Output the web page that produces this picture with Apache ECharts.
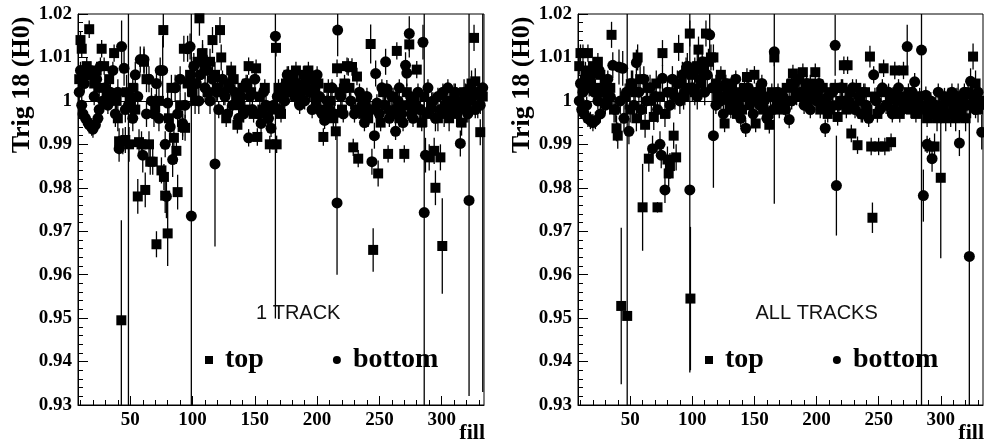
<!DOCTYPE html>
<html><head><meta charset="utf-8">
<script src="https://cdn.jsdelivr.net/npm/echarts@6/dist/echarts.min.js"></script>
<style>html,body{margin:0;padding:0;background:#fff}#c{width:984px;height:444px}</style>
</head><body><div id="c"></div>
<script>
// ---- tick labels / texts ----
const xMajorTicks = [50,100,150,200,250,300];
const xMinorTicks = [10,20,30,40,60,70,80,90,110,120,130,140,160,170,180,190,210,220,230,240,260,270,280,290,310,320,330];
const panelLabels = ['1 TRACK','ALL TRACKS'];
const yTitle = 'Trig 18 (H0)';
const xTitle = 'fill';
const seriesNames = ['top','bottom'];

// ---- data: [fill, value, error] ----
const oneTrackTop = [
[9,1.005,0.002],[10,1.014,0.002],[11,1.012,0.002],[13,1.007,0.002],[15,1.008,0.002],[17,1.0165,0.002],[19,1.006,0.002],[21,1.004,0.002],[23,1.007,0.002],[25,1.003,0.002],[27,1.012,0.002],[29,1.008,0.002],[31,1.002,0.002],[33,1.005,0.002],[35,1.001,0.002],[37,1.011,0.002],[39,1.0,0.003],[40,0.996,0.003],[41,0.9907,0.003],[42.8,0.9495,0.023],[44,0.9907,0.003],[46,0.991,0.003],[47,1.002,0.004],[49,0.990,0.004],[50,1.0,0.003],
[52,1.003,0.003],[54,0.998,0.003],[56,0.978,0.004],[57,0.9905,0.003],[59,0.990,0.003],[61,1.009,0.003],[62,0.9795,0.004],[63,1.005,0.003],[65,0.990,0.003],[66,0.986,0.003],[68,0.986,0.003],[70,0.9985,0.003],[71,0.967,0.003],[73,1.0,0.003],[75,0.984,0.003],[76.5,1.0163,0.004],[77,0.9825,0.003],[78,0.9782,0.004],[80,0.9695,0.0075],[81,0.996,0.003],[83,1.003,0.003],[85,0.9915,0.003],[87,0.9885,0.003],[88,0.979,0.004],[90,0.999,0.003],[92,0.994,0.003],[93,1.012,0.003],[94,0.9938,0.003],[96,1.004,0.003],[98,1.006,0.003],[100,1.002,0.003],[102,1.0,0.003],[104,1.009,0.003],[105.5,1.019,0.004],[108,1.011,0.003],[110,1.008,0.003],[112,1.002,0.003],[114,1.009,0.003],[116,1.014,0.003],
[118,1.006,0.003],[120,1.003,0.003],[122,1.0163,0.003],[123,1.010,0.003],[125,1.002,0.003],[127,0.996,0.002],[129,1.004,0.002],[131,1.007,0.002],[133,1.005,0.002],[135,1.0,0.002],[136,0.9945,0.002],[138,0.999,0.002],[140,1.003,0.002],[142,0.998,0.002],[144,1.004,0.002],[145,1.008,0.002],[147,1.002,0.002],[149,0.997,0.002],[151,1.0075,0.002],[152,0.9917,0.002],[154,1.001,0.002],[156,0.998,0.002],[158,1.003,0.002],[160,0.996,0.002],[162,0.990,0.002],[164,0.998,0.002],[167,1.0122,0.002],[167.5,0.990,0.002],[169,1.003,0.002],[171,0.997,0.002],[173,1.001,0.002],[175,1.004,0.002],[177,1.006,0.002],[179,1.002,0.002],[181,1.005,0.002],[183,1.007,0.002],[185,1.003,0.002],[187,1.001,0.002],[189,1.006,0.002],[191,1.004,0.002],[193,1.007,0.002],[195,1.002,0.002],[197,1.005,0.002],[199,1.0,0.002],[201,1.004,0.002],[203,0.998,0.002],[205,0.9917,0.002],[207,0.997,0.002],[209,1.003,0.002],[211,1.0,0.002],[213,0.996,0.002],[215,0.993,0.002],[216,1.0075,0.002],[218,1.002,0.002],[220,0.998,0.002],[222,1.004,0.002],[224,1.008,0.002],
[226,1.003,0.002],[228,1.0078,0.002],[229,0.9893,0.002],[231,0.998,0.002],[232,1.0056,0.002],[233,0.9867,0.002],[235,1.001,0.002],[237,0.997,0.002],[239,1.0,0.002],[241,0.996,0.002],[243,1.0131,0.0045],[245,0.9657,0.005],[247,0.998,0.002],[249,0.9833,0.003],[251,0.995,0.002],[253,1.002,0.002],[255,0.999,0.002],[257,0.9878,0.002],[259,0.997,0.002],[261,1.001,0.002],[264,1.0115,0.002],[266,0.996,0.002],[268,0.999,0.002],[270,0.9878,0.002],[272,1.002,0.002],[274,1.013,0.003],[276,0.997,0.002],[278,1.0,0.002],[280,1.0072,0.002],[282,0.998,0.002],[284,0.995,0.002],[286,1.001,0.002],[288,0.997,0.003],[290,0.987,0.003],[292,0.999,0.003],[294,0.9885,0.003],[295,0.980,0.004],[297,0.996,0.003],[299,0.987,0.003],[300.5,0.9666,0.011],[302,0.997,0.003],[304,1.0,0.003],[306,0.996,0.003],[308,0.998,0.003],[310,1.001,0.003],[312,0.997,0.003],[314,0.999,0.003],[316,0.995,0.003],[318,1.002,0.003],[320,0.998,0.003],[322,1.0,0.003],[324,1.004,0.003],[326,1.0145,0.003],[327,1.0045,0.003],[329,0.999,0.003],[331,0.9928,0.003],[333,1.001,0.003]
];
const oneTrackBottom = [
[9,1.002,0.002],[10,1.007,0.002],[11,0.999,0.002],[12,0.997,0.002],[13,1.004,0.002],[14,0.996,0.002],[15,1.006,0.002],[16,0.995,0.002],[17,0.9945,0.002],[18,1.007,0.002],[19,0.994,0.002],[20,0.9935,0.002],[21,1.001,0.002],[22,0.9945,0.002],[23,1.005,0.002],[24,0.996,0.002],[25,0.998,0.002],[26,1.008,0.002],[28,1.0,0.002],[30,1.003,0.002],[32,0.999,0.002],[34,1.002,0.002],[36,1.007,0.002],[38,0.997,0.003],[40,1.002,0.003],[41,0.989,0.003],[43,1.0125,0.006],[45,1.0075,0.004],[46,0.998,0.003],[48.5,0.999,0.1],[50,1.001,0.003],[52,0.996,0.003],[54,1.006,0.003],[56,1.001,0.003],[58,1.0095,0.003],[60,0.9875,0.004],[61,1.0095,0.003],[63,0.997,0.003],[65,1.005,0.003],[67,1.0,0.003],[69,0.997,0.003],[71,1.004,0.003],[73,0.996,0.003],[74,1.007,0.003],[76,1.007,0.008],[78,0.990,0.003],[79,0.978,0.005],[80,0.9995,0.003],[82,0.994,0.003],[84,0.9865,0.004],[86,1.003,0.003],[88,0.997,0.003],[90,1.005,0.003],[92,0.9948,0.003],[94,0.999,0.003],[96,1.012,0.003],[98,1.0125,0.003],[99,0.9735,0.06],[101,1.008,0.003],[103,1.004,0.003],[105,1.0,0.003],[106,1.006,0.003],[108,1.01,0.003],[110,1.003,0.003],[112,1.007,0.003],[114,1.0,0.003],[116,1.005,0.003],[118,0.9855,0.019],
[119,1.002,0.002],[121,0.998,0.002],[124,1.005,0.002],[126,1.001,0.002],[128,0.997,0.002],[130,1.003,0.002],[132,0.999,0.002],[134,1.002,0.002],[137,0.996,0.002],[139,1.001,0.002],[141,0.997,0.002],[143,1.004,0.002],[145,0.9915,0.002],[146,1.001,0.002],[148,0.998,0.002],[150,1.005,0.002],[153,0.997,0.002],[155,0.9948,0.002],[157,1.002,0.002],[159,0.999,0.002],[161,0.996,0.002],[163,0.9937,0.002],[165,0.999,0.002],[166.5,1.0149,0.065],[168,1.001,0.002],[170,0.998,0.002],[172,1.003,0.002],[174,1.0,0.002],[176,1.006,0.002],[178,1.003,0.002],[180,1.005,0.002],[182,1.001,0.002],[184,1.004,0.002],[186,0.999,0.002],[188,1.003,0.002],[190,1.0,0.002],[192,1.005,0.002],[194,1.002,0.002],[196,0.998,0.002],[198,1.003,0.002],[200,1.006,0.002],[202,1.001,0.002],[204,0.997,0.002],[206,0.9955,0.002],[208,1.0,0.002],[210,0.998,0.002],[212,1.003,0.002],[214,0.997,0.002],[216,0.9765,0.0165],[216.5,1.0163,0.006],[219,1.001,0.002],[221,0.997,0.002],[223,1.003,0.002],
[225,1.0078,0.002],[227,1.0,0.002],[230,0.997,0.002],[234,1.002,0.002],[236,0.999,0.002],[238,0.995,0.002],[240,1.001,0.002],[242,0.998,0.002],[244,0.986,0.003],[246,0.992,0.003],[247,1.0063,0.003],[248,0.9995,0.002],[250,0.997,0.002],[252,1.003,0.002],[254,0.999,0.002],[255,1.009,0.003],[256,1.0028,0.002],[258,0.996,0.002],[260,1.001,0.002],[262,0.998,0.002],[263,0.993,0.002],[265,1.0,0.002],[266,1.003,0.002],[268,0.997,0.002],[269,0.995,0.002],[271,1.0082,0.003],[272,1.0064,0.003],[273,0.999,0.002],[274,1.0155,0.004],[275,1.001,0.002],[277,0.996,0.002],[279,0.999,0.002],[281,1.002,0.002],[283,0.998,0.002],[285,1.0135,0.004],[286,0.9743,0.06],[287,0.9875,0.004],[289,1.003,0.002],[291,0.998,0.002],[293,1.0,0.002],[295,0.996,0.003],[297,1.001,0.002],[299,0.998,0.002],[301,1.002,0.002],[303,0.999,0.002],[305,1.003,0.002],[307,0.997,0.002],[309,1.0,0.002],[311,1.002,0.002],[313,0.998,0.002],[315,0.9902,0.003],[317,1.0,0.002],[319,1.002,0.002],[321,0.997,0.002],[322,0.9771,0.045],[323,1.003,0.002],[325,1.001,0.002],[327,0.998,0.002],[329,1.002,0.002],[331,0.999,0.002],[333,1.003,0.07]
];
const allTracksTop = [
[9,1.008,0.002],[10,1.011,0.002],[12,1.011,0.002],[14,1.007,0.002],[16,1.011,0.002],[18,1.004,0.002],[20,1.008,0.002],[22,1.003,0.002],[24,1.009,0.002],[26,1.006,0.002],[28,1.002,0.002],[30,1.004,0.002],[32,1.0,0.002],[34,1.003,0.002],[35,1.0152,0.003],[37,0.998,0.003],[39,0.9937,0.003],[40,0.992,0.003],[42.8,0.9528,0.018],[46,1.001,0.003],[47.6,0.9505,0.1],[50,0.998,0.003],[52,1.004,0.003],[54,1.002,0.003],[55,0.996,0.003],[56,1.010,0.003],[58,1.005,0.003],[60,0.9755,0.01],[62,0.9945,0.003],[64,1.003,0.003],[65,0.9867,0.003],[67,1.0,0.003],[69,0.9963,0.003],[71,1.004,0.003],[72,0.9755,0.0012],[74,1.001,0.003],[76,1.011,0.003],[78,0.997,0.003],[80,0.9865,0.003],[81,0.9833,0.003],[82,0.985,0.003],[84,1.002,0.003],[85,0.992,0.003],[87,0.987,0.003],[89,1.0122,0.003],[91,1.004,0.003],[93,1.001,0.003],[95,1.007,0.003],[97,1.003,0.003],[98,1.0155,0.003],[98.5,0.9545,0.0165],[100,1.006,0.003],[102,1.002,0.003],[104,1.008,0.003],[105,1.0118,0.003],[107,1.004,0.003],[109,1.007,0.003],[111,1.0155,0.003],[113,1.009,0.003],[115,1.010,0.003],[117,1.010,0.003],
[119,1.004,0.002],[121,1.001,0.002],[123,1.006,0.002],[126,0.9948,0.002],[128,1.002,0.002],[130,0.999,0.002],[132,1.004,0.002],[134,1.0,0.002],[136,0.997,0.002],[138,1.002,0.002],[140,0.998,0.002],[142,1.003,0.002],[144,1.0055,0.002],[146,0.999,0.002],[148,1.002,0.002],[150,1.006,0.002],[151,0.9948,0.002],[153,1.0,0.002],[155,1.003,0.002],[157,0.998,0.002],[159,1.001,0.002],[161,0.997,0.002],[162,0.9945,0.002],[164,1.002,0.002],[166,1.010,0.002],[168,1.0,0.002],[170,0.998,0.002],[172,1.001,0.002],[174,0.999,0.002],[176,1.003,0.002],[178,1.0,0.002],[180,1.004,0.002],[181,1.0063,0.002],[183,1.002,0.002],[185,1.005,0.002],[187,1.001,0.002],[189,1.0066,0.002],[191,1.003,0.002],[193,0.999,0.002],[195,1.004,0.002],[197,1.002,0.002],[199,1.0066,0.002],[201,1.001,0.002],[203,0.998,0.002],[205,1.003,0.002],[207,1.0,0.002],[209,0.997,0.002],[211,1.002,0.002],[213,0.999,0.002],[215,1.003,0.002],[217,0.9963,0.002],[219,1.0,0.002],[221,1.003,0.002],[222,1.0082,0.002],[224,0.998,0.002],
[225,1.0082,0.002],[227,1.002,0.002],[228,0.9925,0.002],[230,0.999,0.002],[232,1.003,0.002],[233,0.9898,0.002],[235,1.0,0.002],[237,0.997,0.002],[239,1.002,0.002],[241,0.998,0.002],[243,1.0102,0.0025],[244,0.9895,0.002],[245,0.9731,0.0035],[247,1.001,0.002],[249,0.997,0.002],[250,0.9895,0.002],[252,1.002,0.002],[254,1.0075,0.002],[255,0.9895,0.002],[257,0.999,0.002],[259,1.001,0.002],[260,0.9905,0.002],[262,0.998,0.002],[263,1.007,0.002],[265,1.002,0.002],[267,0.997,0.002],[268,1.0,0.002],[270,1.007,0.002],[272,0.999,0.002],[274,1.002,0.002],[276,0.998,0.002],[278,1.001,0.002],[280,0.997,0.002],[282,1.0,0.002],[284,0.998,0.002],[287,0.999,0.002],[289,0.996,0.002],[291,0.9895,0.002],[293,0.997,0.002],[295,0.9895,0.003],[297,0.996,0.003],[299,0.998,0.003],[300,0.9823,0.0185],[302,0.999,0.003],[304,0.996,0.003],[306,1.0,0.003],[308,0.997,0.003],[310,0.999,0.003],[312,0.996,0.003],[314,1.001,0.003],[316,0.998,0.003],[318,1.0,0.003],[320,0.996,0.003],[322,1.002,0.003],[324,0.999,0.003],[326,1.0102,0.003],[328,1.004,0.003],[330,0.998,0.003],[332,1.0,0.003]
];
const allTracksBottom = [
[9,1.0,0.002],[10,1.004,0.002],[11,0.998,0.002],[12,1.002,0.002],[13,0.997,0.002],[14,1.005,0.002],[15,0.999,0.002],[16,0.996,0.002],[17,1.003,0.002],[18,0.9955,0.002],[19,1.006,0.002],[20,0.995,0.002],[21,1.002,0.002],[22,0.9955,0.002],[24,1.0,0.002],[25,1.007,0.002],[26,0.997,0.002],[28,1.003,0.002],[30,0.999,0.002],[32,1.005,0.002],[34,1.001,0.002],[36,1.0082,0.003],[38,0.998,0.003],[41,1.0078,0.004],[42,1.0,0.003],[44,1.0075,0.004],[45,0.996,0.003],[47,1.002,0.003],[49,0.993,0.003],[51,1.004,0.003],[53,0.999,0.003],[55,1.0088,0.003],[57,1.002,0.003],[59,0.998,0.003],[61,1.005,0.003],[63,1.0,0.003],[66,1.003,0.003],[68,0.989,0.003],[70,1.001,0.003],[72,0.998,0.003],[74,0.990,0.003],[75,0.9875,0.003],[76,1.0052,0.003],[78,0.9795,0.003],[80,1.002,0.003],[82,0.999,0.003],[84,1.005,0.003],[86,1.001,0.003],[88,1.004,0.003],[90,1.0,0.003],[92,1.006,0.003],[94,1.002,0.003],[96,1.008,0.003],[98,0.9795,0.042],[100,1.003,0.003],[102,1.007,0.003],[104,1.001,0.003],[106,1.005,0.003],[108,1.009,0.003],[110,1.002,0.003],[112,1.006,0.003],[114,1.0152,0.005],[116,1.003,0.003],[117,0.992,0.012],
[119,0.999,0.002],[121,1.003,0.002],[123,1.0,0.002],[125,0.997,0.002],[127,1.004,0.002],[129,1.001,0.002],[131,0.998,0.002],[133,1.002,0.002],[135,1.005,0.002],[137,0.999,0.002],[139,0.996,0.002],[141,1.001,0.002],[143,0.9937,0.002],[145,1.003,0.002],[147,1.0,0.002],[149,0.997,0.002],[152,1.002,0.002],[154,0.999,0.002],[156,1.004,0.002],[158,1.0,0.002],[160,0.996,0.002],[163,1.001,0.002],[165,0.998,0.002],[166,1.0113,0.035],[169,1.002,0.002],[171,0.999,0.002],[173,1.001,0.002],[175,0.998,0.002],[178,0.9957,0.002],[180,1.0,0.002],[182,1.004,0.002],[184,1.001,0.002],[186,1.005,0.002],[188,1.002,0.002],[190,0.999,0.002],[192,1.004,0.002],[194,1.001,0.002],[195,0.998,0.002],[198,1.003,0.002],[200,1.0,0.002],[202,1.004,0.002],[204,0.999,0.002],[207,0.9937,0.002],[209,1.001,0.002],[211,0.998,0.002],[213,1.002,0.002],[215,1.0128,0.007],[216,0.9805,0.0115],[218,0.999,0.002],[220,1.003,0.002],[223,1.0,0.002],
[226,1.0,0.002],[229,1.003,0.002],[231,0.998,0.002],[234,1.001,0.002],[236,0.997,0.002],[238,1.002,0.002],[240,0.999,0.002],[242,0.996,0.002],[246,1.006,0.002],[248,1.0,0.002],[251,0.998,0.002],[253,1.003,0.002],[256,0.999,0.002],[258,1.002,0.002],[261,0.997,0.002],[264,1.0,0.002],[266,1.003,0.002],[269,0.998,0.002],[271,1.001,0.002],[273,1.0125,0.005],[275,0.999,0.002],[277,1.002,0.002],[279,1.0044,0.002],[281,0.999,0.002],[283,1.001,0.002],[284.5,1.0117,0.1],[286,0.9782,0.006],[288,1.0013,0.002],[289,0.990,0.002],[290,0.998,0.002],[292,1.0,0.002],[293,0.9867,0.003],[296,0.999,0.002],[298,1.002,0.002],[301,0.998,0.002],[303,1.001,0.002],[305,0.997,0.002],[307,1.0,0.002],[309,1.002,0.002],[311,0.998,0.002],[313,1.001,0.002],[315,0.9903,0.003],[317,0.999,0.002],[319,1.002,0.002],[321,0.999,0.002],[323,0.9642,0.037],[324,1.0045,0.003],[326,1.001,0.002],[328,0.998,0.002],[330,1.002,0.002],[332,0.999,0.002],[333,0.9928,0.004]
];

const panels = [
  {top: oneTrackTop, bottom: oneTrackBottom, label: panelLabels[0], left: 78, width: 406},
  {top: allTracksTop, bottom: allTracksBottom, label: panelLabels[1], left: 578, width: 405}
];
const GT = 14, GH = 391;
const serif = 'Liberation Serif';

function errRender(params, api) {
  const x = api.value(0), y = api.value(1), e = api.value(2);
  const p1 = api.coord([x, y + e]), p2 = api.coord([x, y - e]);
  const cs = params.coordSys;
  const lo = cs.y, hi = cs.y + cs.height;
  const c = v => Math.max(lo, Math.min(hi, v));
  return {type: 'line', shape: {x1: p1[0], y1: c(p1[1]), x2: p2[0], y2: c(p2[1])},
          style: {stroke: '#000', lineWidth: 1.3}};
}

const grid = [], xAxis = [], yAxis = [], series = [], legend = [], graphic = [];
panels.forEach((p, i) => {
  grid.push({left: p.left, top: GT, width: p.width, height: GH, show: true, borderColor: '#000', borderWidth: 1, backgroundColor: 'transparent'});
  xAxis.push({type: 'value', gridIndex: i, min: 8, max: 334, position: 'bottom',
    axisLine: {lineStyle: {color: '#000', width: 1}},
    axisTick: {inside: true, length: 9, customValues: xMajorTicks, lineStyle: {color: '#000'}},
    axisLabel: {customValues: xMajorTicks, color: '#000', fontFamily: serif, fontWeight: 'bold', fontSize: 19, margin: 6},
    splitLine: {show: false}});
  xAxis.push({type: 'value', gridIndex: i, min: 8, max: 334, position: 'bottom', offset: 0,
    axisLine: {show: false},
    axisTick: {inside: true, length: 5, customValues: xMinorTicks, lineStyle: {color: '#000'}},
    axisLabel: {show: false}, splitLine: {show: false}});
  yAxis.push({type: 'value', gridIndex: i, min: 0.93, max: 1.02, interval: 0.01,
    axisLine: {show: true, lineStyle: {color: '#000', width: 1}},
    axisTick: {show: true, inside: true, length: 10, lineStyle: {color: '#000'}},
    minorTick: {show: true, splitNumber: 5, length: 5, lineStyle: {color: '#000'}},
    axisLabel: {color: '#000', fontFamily: serif, fontWeight: 'bold', fontSize: 19, margin: 6,
      formatter: v => String(parseFloat(v.toFixed(2)))},
    splitLine: {show: false}, minorSplitLine: {show: false}});
  const xi = i * 2, yi = i;
  series.push({type: 'custom', name: 'err-top-' + i, xAxisIndex: xi, yAxisIndex: yi, renderItem: errRender,
    data: p.top, encode: {x: 0, y: 1}, silent: true, z: 1});
  series.push({type: 'custom', name: 'err-bottom-' + i, xAxisIndex: xi, yAxisIndex: yi, renderItem: errRender,
    data: p.bottom, encode: {x: 0, y: 1}, silent: true, z: 1});
  series.push({type: 'scatter', name: seriesNames[0], xAxisIndex: xi, yAxisIndex: yi, symbol: 'rect', symbolSize: 10,
    itemStyle: {color: '#000', opacity: 1}, data: p.top.map(d => [d[0], d[1]]), z: 3,
    markLine: {silent: true, symbol: 'none', label: {show: false}, lineStyle: {color: '#000', width: 1, type: 'solid'},
      data: [{yAxis: 1}]}});
  series.push({type: 'scatter', name: seriesNames[1], xAxisIndex: xi, yAxisIndex: yi, symbol: 'circle', symbolSize: 11,
    itemStyle: {color: '#000', opacity: 1}, data: p.bottom.map(d => [d[0], d[1]]), z: 3});
  legend.push({left: p.left + 122, top: 341, orient: 'horizontal', selectedMode: false,
    data: [{name: seriesNames[0], icon: 'rect'}, {name: seriesNames[1], icon: 'circle'}],
    itemWidth: 8, itemHeight: 8, itemGap: 69, formatter: n => ' ' + n,
    textStyle: {fontFamily: serif, fontWeight: 'bold', fontSize: 28, color: '#000'}});
  graphic.push({type: 'text', left: p.left + p.width / 2 + 15 - 40, top: 303,
    style: {text: p.label, fontFamily: 'Liberation Sans', fontSize: 20, fill: '#111'}});
  graphic.push({type: 'text', x: p.left - 56, y: 85, rotation: Math.PI / 2,
    style: {text: yTitle, fontFamily: serif, fontWeight: 'bold', fontSize: 26, fill: '#000', align: 'center', verticalAlign: 'middle'}});
  graphic.push({type: 'text', x: p.left + p.width + 1, y: 433,
    style: {text: xTitle, fontFamily: serif, fontWeight: 'bold', fontSize: 22, fill: '#000', align: 'right', verticalAlign: 'middle'}});
});

const chart = echarts.init(document.getElementById('c'), null, {renderer: 'canvas'});
chart.setOption({animation: false, backgroundColor: '#fff', grid, xAxis, yAxis, series, legend, graphic});
</script>
</body></html>
